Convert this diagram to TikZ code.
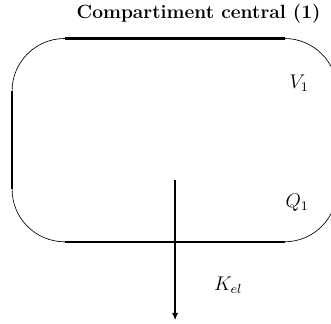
\documentclass[tikz,border=0pt]{standalone}
\usetikzlibrary{arrows.meta}
\begin{document}
\begin{tikzpicture}[font=\fontsize{11.6}{14}\selectfont]
	\useasboundingbox (0,0) rectangle (7.05,6.90);
	\clip (0,0) rectangle (7.05,6.90);
	% compartiment
	\draw[line width=0.4pt, rounded corners=1.12cm] (0.257,1.75) rectangle (7.18,6.08);
	\draw[line width=1.5pt] (0.257,2.87) -- (0.257,4.96);
	\draw[line width=1.5pt] (1.38,6.08) -- (6.06,6.08);
	\draw[line width=1.5pt] (1.38,1.75) -- (6.06,1.75);
	\node[font=\fontsize{11.6}{14}\selectfont\bfseries] (titre) at (4.23,6.60) {Compartiment central (1)};
	\node (vol) at (6.37,5.13) {$V_1$};
	\node (qte) at (6.33,2.58) {$Q_1$};
	% elimination
	\coordinate (src) at (3.73,3.07);
	\coordinate (puits) at (3.73,0.08);
	\draw[-{Latex[length=4.5pt,width=4pt]}, line width=1pt] (src) -- (puits);
	\node (kel) at (4.86,0.83) {$K_{el}$};
\end{tikzpicture}
\end{document}
